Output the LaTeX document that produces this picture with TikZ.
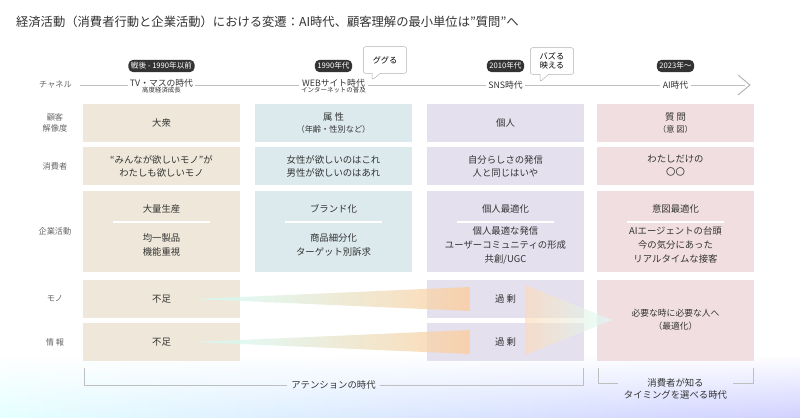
\documentclass[tikz,border=0pt]{standalone}
\usepackage{fontspec}
\setmainfont{Noto Sans CJK JP}
\usetikzlibrary{positioning,fadings,shapes.callouts}
\definecolor{colA}{HTML}{EFE8DA}
\definecolor{colB}{HTML}{DCEAEE}
\definecolor{colC}{HTML}{E4E0EE}
\definecolor{colD}{HTML}{F1DEE0}
\definecolor{txt}{HTML}{333333}
\tikzset{
  cell/.style={fill=#1, inner sep=0pt, font=\fontsize{8}{11}\selectfont, text=txt, align=center},
  rowlbl/.style={font=\fontsize{7}{9}\selectfont, text=gray!80!black, align=center},
  tag/.style={fill=txt, text=white, rounded corners=4pt, font=\fontsize{6.5}{7}\selectfont, inner sep=2.2pt},
  era/.style={fill=white, font=\fontsize{7.5}{8}\selectfont, text=txt, align=center, inner sep=2pt},
  bubble/.style={rectangle callout, draw=gray!60, fill=white, rounded corners=2pt, font=\fontsize{7}{8}\selectfont, align=center, minimum width=1.3cm, minimum height=0.8cm}
}
\begin{document}
\begin{tikzpicture}[x=0.03cm, y=-0.03cm]
\useasboundingbox (0,0) rectangle (800,418);
% background
\fill[white] (0,0) rectangle (800,418);
\shade[left color=cyan!10, right color=blue!18, path fading=north] (0,355) rectangle (800,418);
% title
\node[anchor=west, font=\fontsize{10.5}{12}\selectfont, text=txt] (title) at (12,22) {経済活動（消費者行動と企業活動）における変遷：AI時代、顧客理解の最小単位は”質問”へ};
% channel line
\node[rowlbl, anchor=west] (chan) at (35,85) {チャネル};
\draw[gray!50, line width=0.8pt] (chan.east) ++(4,0) coordinate (c0) -- (745,85) coordinate (c1);
\draw[gray!60, line width=0.8pt] (738,75) -- (750,85) -- (738,95);
% columns
\foreach \x/\c/\n in {83/colA/a, 255/colB/b, 427/colC/c, 597/colD/d} {
  \node[cell=\c, minimum width=4.71cm, minimum height=1.14cm] (\n1) at (\x+78.5,123) {};
  \node[cell=\c, minimum width=4.71cm, minimum height=1.14cm] (\n2) at (\x+78.5,166) {};
}
\foreach \x/\c/\n in {83/colA/a, 255/colB/b, 427/colC/c, 597/colD/d}
  \node[cell=\c, minimum width=4.71cm, minimum height=2.43cm] (\n3) at (\x+78.5,231) {};
\node[cell=colA, minimum width=4.71cm, minimum height=1.14cm] (a4) at (161.5,299) {};
\node[cell=colA, minimum width=4.71cm, minimum height=1.14cm] (a5) at (161.5,342) {};
\node[cell=colC, minimum width=4.71cm, minimum height=1.14cm] (c4) at (505.5,299) {};
\node[cell=colC, minimum width=4.71cm, minimum height=1.14cm] (c5) at (505.5,342) {};
\node[cell=colD, minimum width=4.71cm, minimum height=2.43cm] (d4) at (675.5,320) {};
% gradient arrows
\shade[left color=cyan!18, right color=orange!40, opacity=0.75]
  (195,299) -- (470,287) -- (470,311) -- cycle;
\shade[left color=cyan!18, right color=orange!40, opacity=0.75]
  (195,342) -- (470,330) -- (470,354) -- cycle;
\shade[left color=orange!30, right color=cyan!15, opacity=0.6]
  (525,285) -- (612,320) -- (525,355) -- cycle;
% row labels
\node[rowlbl] at (55,123) {顧客\\解像度};
\node[rowlbl] at (55,166) {消費者};
\node[rowlbl] at (55,231) {企業活動};
\node[rowlbl] at (55,299) {モノ};
\node[rowlbl] at (55,342) {情 報};
% eras
\node[era] (e1) at (161.5,86) {TV・マスの時代\\[-3pt]{\fontsize{5.5}{6}\selectfont 高度経済成長}};
\node[era] (e2) at (333.5,86) {WEBサイト時代\\[-3pt]{\fontsize{5.5}{6}\selectfont インターネットの普及}};
\node[era] (e3) at (505.5,85) {SNS時代};
\node[era] (e4) at (675.5,85) {AI時代};
\node[tag] (t1) at (161.5,66) {戦後 - 1990年以前};
\node[tag] (t2) at (333.5,66) {1990年代};
\node[tag] (t3) at (505.5,66) {2010年代};
\node[tag] (t4) at (675.5,66) {2023年〜};
\node[bubble, callout absolute pointer={(372,80)}] (g1) at (385,60) {ググる};
\node[bubble, callout absolute pointer={(540,82)}] (g2) at (552,61) {バズる\\映える};
% texts
\node[cell=colA] at (a1) {大衆};
\node[cell=colB] at (b1) {属 性\\{\fontsize{7}{9}\selectfont （年齢・性別など）}};
\node[cell=colC] at (c1) {個人};
\node[cell=colD] at (d1) {質 問\\{\fontsize{7}{9}\selectfont （意 図）}};
\node[cell=colA] at (a2) {“みんなが欲しいモノ”が\\わたしも欲しいモノ};
\node[cell=colB] at (b2) {女性が欲しいのはこれ\\男性が欲しいのはあれ};
\node[cell=colC] at (c2) {自分らしさの発信\\人と同じはいや};
\node[cell=colD] at (d2) {わたしだけの\\〇〇};
\foreach \n/\h/\b in {a/大量生産/{均一製品\\機能重視}, b/ブランド化/{商品細分化\\ターゲット別訴求}, c/個人最適化/{個人最適な発信\\ユーザーコミュニティの形成\\共創/UGC}, d/意図最適化/{AIエージェントの台頭\\今の気分にあった\\リアルタイムな接客}} {
  \node[font=\fontsize{8}{10}\selectfont, text=txt] at ([yshift=-0.55cm]\n3.north) {\h};
  \draw[white, line width=1pt] ([xshift=0.9cm, yshift=-0.95cm]\n3.north west) -- ([xshift=-0.9cm, yshift=-0.95cm]\n3.north east);
  \node[font=\fontsize{8}{12}\selectfont, text=txt, align=center] at ([yshift=-0.42cm]\n3.center) {\b};
}
\node[font=\fontsize{8}{10}\selectfont, text=txt] at (a4) {不足};
\node[font=\fontsize{8}{10}\selectfont, text=txt] at (a5) {不足};
\node[font=\fontsize{8}{10}\selectfont, text=txt] at (c4) {過 剰};
\node[font=\fontsize{8}{10}\selectfont, text=txt] at (c5) {過 剰};
\node[font=\fontsize{7.5}{11}\selectfont, text=txt, align=center] at (d4) {必要な時に必要な人へ\\（最適化）};
% brackets
\node[font=\fontsize{8}{10}\selectfont, text=txt] (att) at (333.5,385) {アテンションの時代};
\draw[gray!50, line width=0.8pt] (att.west) -- (84,385) -- (84,368);
\draw[gray!50, line width=0.8pt] (att.east) -- (583,385) -- (583,368);
\node[font=\fontsize{8}{10}\selectfont, text=txt, align=center] (cons) at (675.5,389) {消費者が知る\\タイミングを選べる時代};
\draw[gray!50, line width=0.8pt] (598,368) -- (598,383) -- (618,383);
\draw[gray!50, line width=0.8pt] (753,368) -- (753,383) -- (733,383);
\end{tikzpicture}
\end{document}
